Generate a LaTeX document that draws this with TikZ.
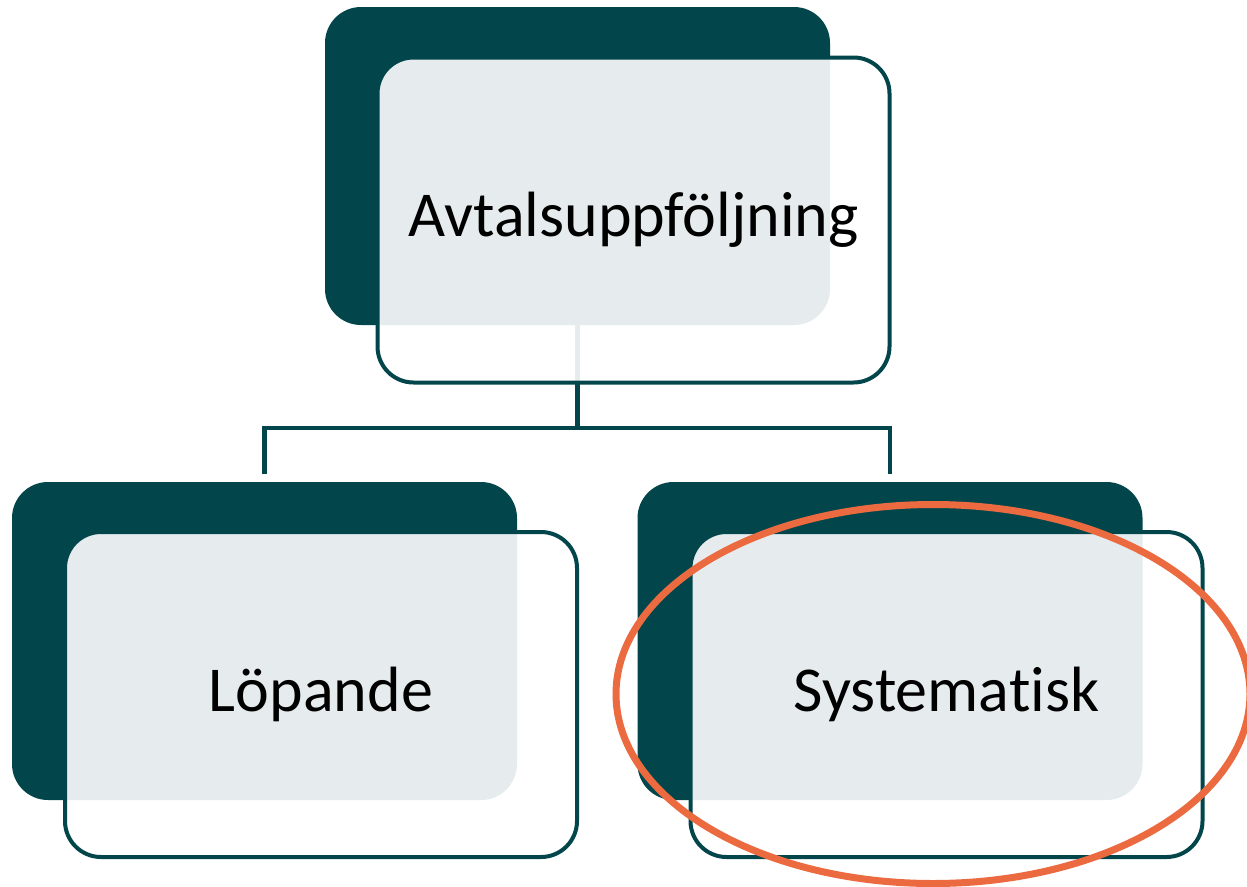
\documentclass[tikz,border=0pt]{standalone}
\usepackage{fontspec}
\setmainfont[Ligatures=NoCommon]{Carlito}
\usetikzlibrary{shapes.geometric}
\definecolor{teal}{HTML}{02464B}
\definecolor{hilite}{HTML}{EB6A3F}
\tikzset{
  backbox/.style={rectangle, fill=teal, rounded corners=36pt,
    minimum width=505pt, minimum height=318pt, inner sep=0pt},
  frontbox/.style={rectangle, draw=teal, line width=4pt, fill=white,
    fill opacity=0.9, draw opacity=1, text opacity=1, rounded corners=36pt,
    minimum width=512pt, minimum height=325pt, inner sep=0pt,
    font=\fontsize{64}{72}\selectfont},
  conn/.style={draw=teal, line width=4.5pt, line join=miter},
  ring/.style={ellipse, draw=hilite, line width=7pt, inner sep=0pt,
    minimum width=634pt, minimum height=379pt}
}
\begin{document}
\begin{tikzpicture}[x=1pt, y=-1pt]
  \useasboundingbox (0,0) rectangle (1247,886);

  % dark back panels
  \node[backbox] (topback)   at (577.5,166) {};
  \node[backbox] (leftback)  at (264.5,641) {};
  \node[backbox] (rightback) at (890,641) {};

  % tree connectors, drawn beneath the translucent front panels
  \coordinate (bus)  at (577.5,428);
  \coordinate (lend) at (264.5,474);
  \coordinate (rend) at (890,474);
  \draw[conn] ([yshift=5pt]topback.south) -- (topback.south |- bus);
  \draw[conn] (lend) |- (rend |- bus) -- (rend);

  % front panels with labels
  \node[frontbox] (top)   at (633.5,220)   {Avtalsuppföljning};
  \node[frontbox] (left)  at (321,694.5)   {Löpande};
  \node[frontbox] (right) at (946.5,694.5) {Systematisk};

  % highlight ring
  \node[ring] (ring) at (933,694) {};
\end{tikzpicture}
\end{document}
